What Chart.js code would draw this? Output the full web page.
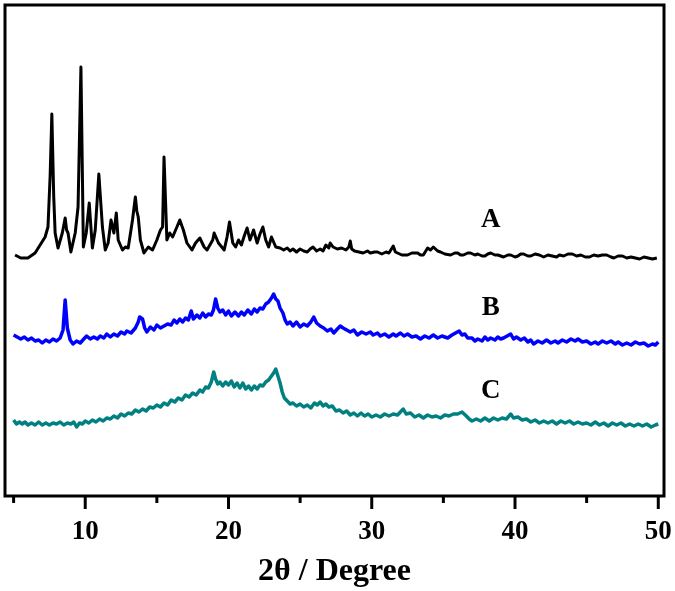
<!DOCTYPE html>
<html>
<head>
<meta charset="utf-8">
<script src="https://cdn.jsdelivr.net/npm/chart.js"></script>
<style>
  html, body { margin: 0; padding: 0; background: #fff; }
  #wrap { width: 675px; height: 591px; }
</style>
</head>
<body>
<div id="wrap"><canvas id="xrd"></canvas></div>
<script>
// 2-theta positions and intensities (arbitrary units)
const thetaA = [5.1, 5.5, 6.0, 6.5, 6.85, 7.2, 7.4, 7.55, 7.67, 7.8, 7.9, 8.1, 8.4, 8.6, 8.7, 8.8, 9.0, 9.3, 9.5, 9.7,
    9.87, 10.07, 10.28, 10.5, 10.7, 10.95, 11.2, 11.4, 11.6, 11.8, 12.0, 12.17, 12.3, 12.6, 12.8, 13.0, 13.3, 13.5, 13.6, 13.7,
    13.85, 14.1, 14.4, 14.7, 15.0, 15.25, 15.4, 15.5, 15.7, 15.9, 16.1, 16.4, 16.6, 16.85, 17.1, 17.45, 17.7, 18.0, 18.3, 18.5,
    18.9, 19.0, 19.3, 19.7, 19.9, 20.07, 20.3, 20.5, 20.7, 20.9, 21.1, 21.3, 21.5, 21.75, 22.0, 22.2, 22.4, 22.6, 22.8, 23.0,
    23.3, 23.6, 23.85, 24.1, 24.3, 24.5, 24.75, 25.0, 25.25, 25.5, 25.7, 25.9, 26.15, 26.4, 26.6, 26.8, 27.0, 27.1, 27.3, 27.6,
    27.9, 28.2, 28.4, 28.5, 28.6, 28.8, 29.1, 29.4, 29.7, 29.9, 30.2, 30.4, 30.7, 31.0, 31.2, 31.5, 31.65, 31.8, 32.1, 32.5,
    32.8, 33.2, 33.4, 33.6, 33.9, 34.1, 34.3, 34.6, 34.8, 35.1, 35.5, 35.8, 36.0, 36.2, 36.4, 36.7, 36.9, 37.2, 37.4, 37.7,
    37.9, 38.1, 38.3, 38.6, 38.8, 39.0, 39.2, 39.5, 39.7, 40.0, 40.2, 40.4, 40.6, 40.9, 41.1, 41.4, 41.7, 42.0, 42.3, 42.6,
    42.9, 43.1, 43.4, 43.7, 44.0, 44.3, 44.6, 44.9, 45.2, 45.5, 45.8, 46.1, 46.4, 46.7, 46.9, 47.2, 47.5, 47.8, 48.1, 48.4,
    48.7, 49.0, 49.3, 49.6, 49.9];
const countsA = [241, 238, 238, 243, 251, 259, 269, 320, 382, 300, 263, 248, 263, 278, 266, 263, 244, 263, 289, 429,
    249, 263, 293, 248, 266, 322, 269, 246, 253, 276, 263, 283, 256, 246, 249, 248, 276, 299, 285, 279,
    256, 243, 249, 246, 256, 266, 269, 339, 256, 263, 259, 269, 276, 266, 253, 246, 253, 258, 249, 246,
    256, 263, 253, 246, 259, 274, 253, 249, 256, 251, 260, 268, 256, 266, 253, 262, 269, 256, 249, 259,
    249, 248, 246, 248, 245, 247, 244, 247, 245, 244, 247, 249, 245, 247, 245, 251, 248, 253, 249, 247,
    248, 246, 249, 255, 247, 245, 244, 243, 245, 243, 244, 244, 242, 244, 243, 250, 244, 243, 241, 241,
    243, 243, 241, 241, 248, 246, 249, 245, 244, 242, 241, 243, 243, 241, 241, 243, 243, 241, 242, 240,
    240, 242, 243, 241, 241, 240, 239, 241, 241, 239, 240, 242, 242, 240, 240, 242, 241, 239, 241, 240,
    239, 241, 240, 242, 242, 240, 241, 239, 239, 241, 240, 241, 241, 239, 238, 240, 240, 238, 239, 238,
    237, 239, 238, 237, 238];

const thetaB = [5.0, 5.25, 5.5, 5.75, 6.0, 6.25, 6.5, 6.75, 7.0, 7.25, 7.5, 7.75, 8.0, 8.25, 8.45, 8.6, 8.75, 8.95, 9.15, 9.4,
    9.65, 9.9, 10.1, 10.35, 10.6, 10.85, 11.05, 11.3, 11.5, 11.75, 12.0, 12.25, 12.5, 12.75, 12.9, 13.2, 13.5, 13.7, 13.8, 14.0,
    14.15, 14.3, 14.55, 14.8, 15.0, 15.25, 15.5, 15.75, 16.0, 16.2, 16.4, 16.6, 16.8, 17.0, 17.2, 17.4, 17.55, 17.8, 18.0, 18.2,
    18.4, 18.6, 18.8, 18.95, 19.1, 19.25, 19.4, 19.6, 19.8, 20.0, 20.2, 20.45, 20.7, 20.9, 21.1, 21.35, 21.6, 21.8, 22.0, 22.2,
    22.4, 22.6, 22.8, 23.0, 23.15, 23.3, 23.45, 23.6, 23.8, 23.95, 24.1, 24.3, 24.5, 24.75, 25.0, 25.25, 25.5, 25.75, 25.95, 26.15,
    26.4, 26.65, 26.9, 27.15, 27.35, 27.6, 27.8, 28.0, 28.25, 28.5, 28.75, 29.0, 29.3, 29.6, 29.9, 30.1, 30.4, 30.6, 30.9, 31.2,
    31.5, 31.7, 32.0, 32.25, 32.5, 32.8, 33.1, 33.4, 33.7, 34.0, 34.3, 34.6, 34.9, 35.3, 35.6, 35.85, 36.1, 36.3, 36.5, 36.7,
    37.0, 37.2, 37.4, 37.7, 37.9, 38.1, 38.3, 38.6, 38.8, 39.0, 39.2, 39.45, 39.7, 39.9, 40.1, 40.4, 40.65, 40.9, 41.1, 41.3,
    41.6, 41.9, 42.2, 42.5, 42.8, 43.0, 43.3, 43.6, 43.9, 44.2, 44.4, 44.7, 45.0, 45.3, 45.6, 45.8, 46.1, 46.4, 46.7, 47.0,
    47.2, 47.5, 47.8, 48.1, 48.4, 48.7, 49.0, 49.3, 49.6, 49.8, 50.0];
const countsB = [161, 159, 157, 159, 156, 158, 155, 156, 153, 156, 154, 157, 155, 158, 166, 196, 168, 156, 152, 155,
    153, 157, 160, 157, 159, 157, 160, 158, 162, 159, 162, 160, 164, 162, 165, 163, 168, 174, 179, 177,
    168, 164, 169, 166, 171, 168, 170, 172, 171, 176, 173, 177, 174, 178, 176, 185, 177, 181, 178, 183,
    179, 182, 181, 186, 197, 188, 184, 186, 181, 185, 180, 184, 180, 184, 181, 186, 182, 187, 184, 188,
    187, 192, 194, 198, 202, 197, 195, 188, 183, 176, 172, 174, 170, 174, 169, 172, 170, 174, 179, 173,
    170, 168, 165, 167, 163, 167, 170, 168, 166, 164, 166, 161, 164, 162, 164, 161, 163, 160, 162, 159,
    162, 160, 163, 160, 162, 159, 160, 157, 160, 158, 161, 158, 160, 158, 161, 163, 165, 161, 162, 158,
    158, 155, 157, 155, 159, 156, 158, 156, 159, 157, 158, 160, 162, 157, 159, 156, 158, 154, 156, 152,
    155, 153, 156, 153, 155, 153, 156, 154, 157, 155, 157, 154, 155, 152, 154, 152, 155, 153, 155, 152,
    154, 151, 153, 151, 154, 152, 153, 150, 152, 151, 154];

const thetaC = [5.0, 5.2, 5.4, 5.6, 5.8, 6.0, 6.25, 6.5, 6.75, 7.0, 7.25, 7.5, 7.75, 8.0, 8.25, 8.5, 8.75, 9.0, 9.2, 9.4,
    9.6, 9.8, 10.0, 10.25, 10.5, 10.75, 11.0, 11.25, 11.5, 11.75, 12.0, 12.25, 12.5, 12.75, 13.0, 13.25, 13.5, 13.75, 14.0, 14.25,
    14.5, 14.75, 15.0, 15.25, 15.5, 15.75, 16.0, 16.25, 16.5, 16.75, 17.0, 17.25, 17.5, 17.75, 18.0, 18.2, 18.4, 18.6, 18.8, 18.97,
    19.1, 19.25, 19.4, 19.6, 19.8, 20.0, 20.2, 20.4, 20.6, 20.8, 21.0, 21.2, 21.4, 21.6, 21.8, 22.0, 22.2, 22.4, 22.6, 22.8,
    23.0, 23.15, 23.3, 23.45, 23.6, 23.75, 23.9, 24.1, 24.3, 24.5, 24.75, 25.0, 25.25, 25.5, 25.75, 26.0, 26.2, 26.4, 26.6, 26.8,
    27.0, 27.25, 27.5, 27.75, 28.0, 28.25, 28.5, 28.75, 29.0, 29.25, 29.5, 29.75, 30.0, 30.3, 30.6, 30.9, 31.2, 31.5, 31.8, 32.0,
    32.2, 32.4, 32.7, 33.0, 33.3, 33.6, 33.9, 34.2, 34.5, 34.8, 35.1, 35.4, 35.7, 36.0, 36.3, 36.6, 36.8, 37.0, 37.3, 37.6,
    37.9, 38.2, 38.5, 38.8, 39.1, 39.4, 39.7, 39.9, 40.2, 40.5, 40.8, 41.1, 41.4, 41.7, 42.0, 42.3, 42.6, 42.9, 43.2, 43.5,
    43.8, 44.1, 44.4, 44.7, 45.0, 45.3, 45.6, 45.9, 46.2, 46.5, 46.8, 47.1, 47.4, 47.7, 48.0, 48.3, 48.6, 48.9, 49.2, 49.5,
    49.8, 50.0];
const countsC = [76, 72, 74, 72, 74, 71, 73, 71, 74, 71, 73, 71, 73, 72, 74, 71, 73, 72, 74, 69,
    73, 72, 75, 73, 76, 74, 77, 75, 78, 77, 80, 78, 82, 80, 83, 82, 86, 84, 87, 85,
    89, 88, 91, 89, 93, 91, 96, 94, 98, 96, 101, 99, 103, 101, 106, 104, 109, 108, 114, 124,
    117, 112, 114, 110, 114, 111, 115, 109, 113, 108, 113, 107, 110, 106, 110, 107, 111, 110, 114, 116,
    120, 123, 127, 120, 113, 104, 98, 95, 92, 93, 90, 92, 89, 91, 88, 93, 91, 94, 90, 92,
    89, 90, 85, 86, 83, 85, 81, 83, 80, 83, 80, 82, 79, 81, 79, 82, 80, 82, 81, 84,
    87, 82, 83, 79, 81, 78, 81, 79, 80, 78, 81, 80, 82, 82, 84, 80, 77, 75, 77, 75,
    78, 75, 78, 76, 78, 77, 82, 78, 79, 76, 77, 74, 76, 73, 75, 73, 75, 72, 75, 73,
    75, 72, 74, 72, 73, 71, 74, 71, 73, 70, 73, 71, 73, 70, 72, 70, 72, 70, 72, 69,
    71, 72];

const xTicks = [5, 10, 15, 20, 25, 30, 35, 40, 45, 50];
const sampleNames = ['A', 'B', 'C'];
const sampleColors = ['#000000', '#0000ff', '#008080'];
// where each sample letter sits, in data units
const nameTheta = [38.3, 38.3, 38.3];
const nameCounts = [276, 188, 105];

const SERIF = '"Liberation Serif", "Times New Roman", serif';

function toPoints(xs, ys) {
    return xs.map((x, i) => ({ x: x, y: ys[i] }));
}

// frame, tick marks and sample letters
const framePlugin = {
    id: 'frame',
    afterDraw(chart) {
        const ctx = chart.ctx;
        const area = chart.chartArea;
        const xs = chart.scales.x;
        const ys = chart.scales.y;
        ctx.save();
        ctx.strokeStyle = '#000';
        ctx.lineWidth = 3;
        ctx.strokeRect(area.left, area.top, area.right - area.left, area.bottom - area.top);
        xTicks.forEach(v => {
            const px = xs.getPixelForValue(v);
            const len = v % 10 === 0 ? 13 : 7;
            ctx.beginPath();
            ctx.moveTo(px, area.bottom);
            ctx.lineTo(px, area.bottom + len);
            ctx.stroke();
        });
        ctx.font = 'bold 27px ' + SERIF;
        ctx.textAlign = 'center';
        ctx.textBaseline = 'middle';
        ctx.fillStyle = '#000';
        sampleNames.forEach((name, i) => {
            ctx.fillText(name, xs.getPixelForValue(nameTheta[i]), ys.getPixelForValue(nameCounts[i]));
        });
        ctx.restore();
    }
};

new Chart(document.getElementById('xrd'), {
    type: 'line',
    data: {
        datasets: [
            { label: 'A', data: toPoints(thetaA, countsA), borderColor: sampleColors[0], borderWidth: 3 },
            { label: 'B', data: toPoints(thetaB, countsB), borderColor: sampleColors[1], borderWidth: 3.5 },
            { label: 'C', data: toPoints(thetaC, countsC), borderColor: sampleColors[2], borderWidth: 3.5 }
        ]
    },
    options: {
        responsive: true,
        maintainAspectRatio: false,
        animation: false,
        layout: { padding: { left: 5, top: 5, right: 11, bottom: 0 } },
        elements: {
            point: { radius: 0 },
            line: { tension: 0, borderJoinStyle: 'round' }
        },
        plugins: {
            legend: { display: false },
            tooltip: { enabled: false }
        },
        scales: {
            x: {
                type: 'linear',
                min: 4.4,
                max: 50.4,
                afterBuildTicks: scale => { scale.ticks = xTicks.map(v => ({ value: v })); },
                afterFit: scale => {
                    scale.height = 95;
                    scale.paddingLeft = 0;
                    scale.paddingRight = 0;
                },
                grid: { display: false, drawTicks: false },
                border: { display: false },
                ticks: {
                    padding: 20,
                    color: '#000',
                    maxRotation: 0,
                    autoSkip: false,
                    font: { family: SERIF, size: 27, weight: 'bold' },
                    callback: v => (v % 10 === 0 ? String(v) : '')
                },
                title: {
                    display: true,
                    text: '2θ / Degree',
                    color: '#000',
                    font: { family: SERIF, size: 32, weight: 'bold' },
                    padding: { top: 2, bottom: 0 }
                }
            },
            y: {
                display: false,
                min: 0,
                max: 491
            }
        }
    },
    plugins: [framePlugin]
});
</script>
</body>
</html>
